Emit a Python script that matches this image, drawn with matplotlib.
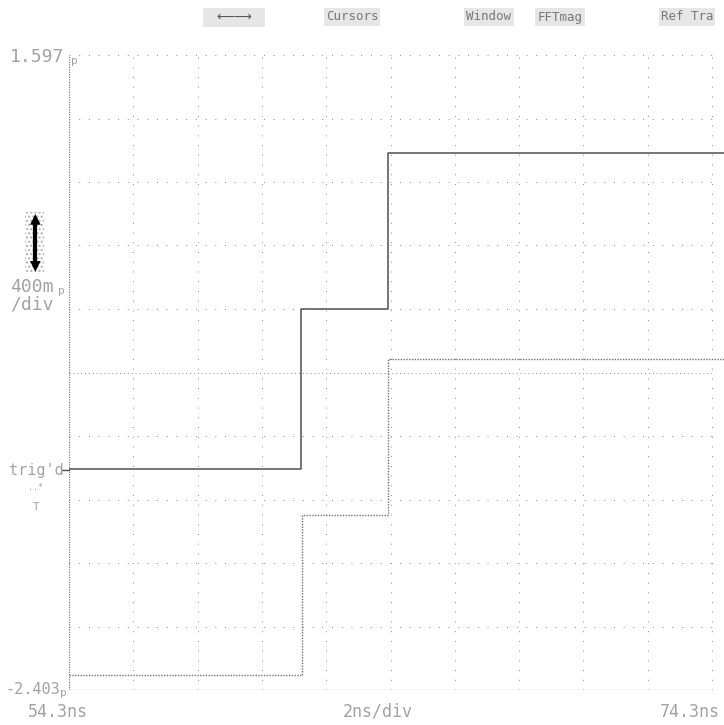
import numpy as np
import matplotlib.pyplot as plt
from matplotlib.patches import Rectangle

# Screen capture of a scope: two step traces, 2 ns/div, 400 mV/div

t_start = 54.3
t_stop = 74.3
ns_per_div = 2.0
v_bottom = -2.403
v_top = 1.597
v_per_div = 0.4

# channel 1 (solid trace): levels and switching times
ch1_levels = [-1.01, 0.0, 0.98]
ch1_edges = [61.52, 64.22]
# channel 2 (dotted trace)
ch2_levels = [-2.31, -1.30, -0.32]
ch2_edges = [61.55, 64.22]

menu_items = ['Cursors', 'Window', 'FFTmag', 'Ref Tra']

W, H = 724, 725
grid_col = '#8a8a8a'
text_col = '#a2a2a2'


def step_xy(levels, edges, t0, t1):
    xs = [t0]
    ys = [levels[0]]
    for e, lo, hi in zip(edges, levels[:-1], levels[1:]):
        xs += [e, e]
        ys += [lo, hi]
    xs.append(t1)
    ys.append(levels[-1])
    return xs, ys


fig = plt.figure(figsize=(W / 100, H / 100), dpi=100, facecolor='white')

# pixel positions of the graticule on the screen
px_left, px_top, px_bottom = 69, 55, 690
px_div = 64.3
ax_left = px_left / W
ax_bottom = 1 - px_bottom / H
ax_height = (px_bottom - px_top) / H
ax = fig.add_axes([ax_left, ax_bottom, 1 - ax_left, ax_height])
t_right = t_start + (W - px_left) / px_div * ns_per_div
ax.set_xlim(t_start, t_right)
ax.set_ylim(v_bottom, v_top)
ax.axis('off')

# graticule
for k in range(1, 11):
    x = t_start + k * ns_per_div
    ax.plot([x, x], [v_bottom, v_top], color=grid_col, lw=0.7,
            ls=(0, (1, 9)), zorder=1)
for k in range(1, 11):
    y = v_bottom + k * v_per_div
    ls = (0, (1, 3)) if k == 5 else (0, (1, 9))
    ax.plot([t_start, t_stop], [y, y], color=grid_col, lw=0.7, ls=ls, zorder=1)
ax.plot([t_start, t_start], [v_bottom, v_top], color='#777777', lw=0.9,
        ls=(0, (1, 1)), zorder=1)
ax.plot([t_start, t_stop], [v_bottom, v_bottom], color='#777777', lw=0.9,
        ls=(0, (1, 1)), zorder=1)

# traces
x2, y2 = step_xy(ch2_levels, ch2_edges, t_start, t_right)
ax.plot(x2, y2, color='#707070', lw=1.0, ls=(0, (1, 1)), zorder=2)
x1, y1 = step_xy(ch1_levels, ch1_edges, t_start, t_right)
ax.plot(x1, y1, color='#505050', lw=1.1, zorder=3)


def ftext(px, py, s, size=12, ha='left', **kw):
    fig.text(px / W, 1 - py / H, s, fontsize=size, ha=ha, va='center',
             color=text_col, family='DejaVu Sans Mono', **kw)


# left side labels
ftext(10, 57, '1.597', size=13)
ftext(71, 61, 'p', size=8)
ftext(10, 287, '400m', size=13)
ftext(58, 291, 'p', size=8)
ftext(10, 305, '/div', size=13)
ftext(9, 470, "trig'd", size=11)
fig.add_artist(plt.Line2D([62 / W, 69 / W], [1 - 470 / H, 1 - 470 / H],
                          color='#505050', lw=1.0))
ftext(36, 487, '..*', size=6, ha='center')
ftext(36, 507, 'T', size=8, ha='center')
ftext(5, 690, '-2.403', size=11)
ftext(60, 693, 'p', size=8)

# volts/div arrow icon
fig.add_artist(Rectangle((25 / W, 1 - 272 / H), 19 / W, 60 / H,
                         facecolor='none', edgecolor='#b0b0b0', hatch='....',
                         lw=0))
fig.add_artist(plt.Line2D([35 / W, 35 / W], [1 - 222 / H, 1 - 262 / H],
                          color='black', lw=3))
fig.text(35 / W, 1 - 218 / H, '\u25b2', color='black', fontsize=10,
         ha='center', va='center')
fig.text(35 / W, 1 - 265 / H, '\u25bc', color='black', fontsize=10,
         ha='center', va='center')

# bottom time labels
ftext(58, 712, '54.3ns', size=12, ha='center')
ftext(378, 712, '2ns/div', size=12, ha='center')
ftext(690, 712, '74.3ns', size=12, ha='center')

# top softkey menu
box = dict(facecolor='#e6e6e6', edgecolor='none', pad=1.5)
fig.add_artist(Rectangle((203 / W, 1 - 27 / H), 62 / W, 19 / H,
                         facecolor='#e6e6e6', edgecolor='none'))
fig.text(234 / W, 1 - 17 / H, '\u27f5\u27f6', fontsize=9, color='#555555',
         ha='center', va='center', family='DejaVu Sans')
menu_x = [352, 489, 560, 687]
for mx, label in zip(menu_x, menu_items):
    fig.text(mx / W, 1 - 17 / H, label, fontsize=9, color='#777777',
             ha='center', va='center', family='DejaVu Sans Mono', bbox=box)

fig.savefig('out.png', dpi=100, facecolor='white')
